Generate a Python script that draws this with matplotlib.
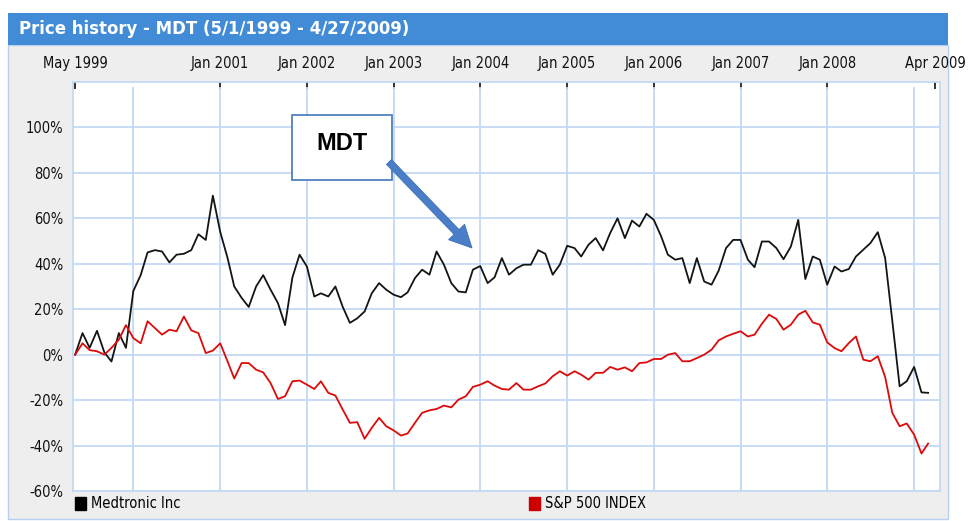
import os
import numpy as np
import pandas as pd
import matplotlib
matplotlib.use("Agg")
import matplotlib.pyplot as plt
import matplotlib.dates as mdates
import matplotlib.font_manager as fm
from matplotlib.patches import Rectangle, FancyArrowPatch, Patch

# ---------------- data ----------------
dates = pd.date_range("1999-05-01", "2009-03-01", freq="MS")

mdt_pct = [0, 9.5, 3, 10.5, 1, -3, 9.5, 3, 28, 35,
           45, 46, 45.4, 40.6, 44, 44.4, 46, 53, 50.5, 70,
           54, 42.5, 30, 25, 21, 30, 35, 28.6, 22.7, 13,
           34, 44, 38.8, 25.6, 27, 25.6, 30, 21, 14, 16,
           19, 27, 31.5, 28.6, 26.4, 25.3, 27.4, 33.7, 37.4, 35.2,
           45.4, 39.6, 31.5, 27.8, 27.4, 37.4, 39, 31.5, 34, 42.5,
           35.2, 38, 39.6, 39.6, 46, 44.4, 35.2, 39.6, 47.9, 46.9,
           43.2, 48.4, 51.3, 45.9, 53.5, 60, 51.3, 59, 56.4, 62,
           59.3, 52, 44, 41.8, 42.5, 31.5, 42.5, 32.2, 30.8,
           37, 46.9, 50.5, 50.5, 41.8, 38.5, 49.8, 49.8, 46.9, 42,
           47.6, 59.3, 33.3, 43.2, 41.8, 30.8, 38.8, 36.6, 37.7, 43.2,
           46.2, 49.1, 53.9, 42.5, 15, -13.9, -11.7, -5.4, -16.6, -16.8]

sp500_pct = [0, 5, 2, 1.5, 0, 3, 6.6, 13, 7.3, 5,
             14.7, 11.7, 8.8, 11, 10.3, 16.8, 10.7, 9.5, 0.7, 1.8,
             5, -3, -10.5, -3.7, -3.7, -6.6, -7.8, -12.5, -19.5, -18.3,
             -11.7, -11.4, -13.2, -15.1, -11.7, -16.8, -18, -24.2, -30, -29.7,
             -37, -32.2, -27.8, -31.5, -33.3, -35.6, -34.7, -30, -25.6, -24.5,
             -23.9, -22.4, -23.2, -19.8, -18.3, -14.2, -13.2, -11.7, -13.6, -15.1,
             -15.4, -12.5, -15.4, -15.4, -13.9, -12.7, -9.5, -7.3, -9.2, -7.3,
             -8.8, -11, -8, -8, -5.4, -6.6, -5.6, -7.3, -3.7, -3.4,
             -1.9, -1.9, 0, 0.7, -2.9, -2.9, -1.5, 0, 2.2,
             6.3, 8, 9.2, 10.3, 8, 8.8, 13.6, 17.6, 15.7, 11,
             13.2, 17.6, 19.3, 14.2, 13.2, 5.4, 2.9, 1.5, 5.1, 8,
             -2.2, -2.9, -0.7, -9.8, -25.6, -31.5, -30.3, -35.2, -43.5, -39.1]

series_names = ["Medtronic Inc", "S&P 500 INDEX"]
tick_dates = ["1999-05-01", "2001-01-01", "2002-01-01", "2003-01-01", "2004-01-01",
              "2005-01-01", "2006-01-01", "2007-01-01", "2008-01-01", "2009-04-01"]
tick_labels = ["May 1999", "Jan 2001", "Jan 2002", "Jan 2003", "Jan 2004",
               "Jan 2005", "Jan 2006", "Jan 2007", "Jan 2008", "Apr 2009"]
grid_dates = ["%d-01-01" % y for y in range(2000, 2010)]
y_ticks = [-60, -40, -20, 0, 20, 40, 60, 80, 100]
title = "Price history - MDT (5/1/1999 - 4/27/2009)"
note = "MDT"

# ---------------- fonts ----------------
def find_font(name):
    for f in fm.fontManager.ttflist:
        if os.path.basename(f.fname) == name:
            return f.fname
    return None

cond = find_font("DejaVuSansCondensed.ttf")
cond_b = find_font("DejaVuSansCondensed-Bold.ttf")

def fp(size, bold=False):
    path = cond_b if bold else cond
    if path:
        return fm.FontProperties(fname=path, size=size)
    return fm.FontProperties(family="DejaVu Sans", size=size * 0.9,
                             weight="bold" if bold else "normal")

# ---------------- figure ----------------
W, H = 972, 521
fig = plt.figure(figsize=(W / 100, H / 100), dpi=100)
fig.patch.set_facecolor("white")

def fx(x):
    return x / W

def fy(y):
    return 1 - y / H

GRID = "#C3DAF4"

# gray panel + title bar
fig.patches.append(Rectangle((fx(8), fy(519)), fx(940), (519 - 45) / H,
                             transform=fig.transFigure, fc="#EEEEEE",
                             ec="#B7D0EE", lw=1.0, zorder=-2))
fig.patches.append(Rectangle((fx(8), fy(45)), fx(940), 32 / H,
                             transform=fig.transFigure, fc="#428BD7",
                             ec="none", zorder=-1))
fig.text(fx(19), fy(29), title, color="white", ha="left", va="center",
         fontproperties=fp(13.2, bold=True))

ax = fig.add_axes([fx(73), fy(491), (940 - 73) / W, (491 - 82) / H])
ax.set_facecolor("white")

ax.plot(dates, mdt_pct, color="#141414", lw=1.3, zorder=3)
ax.plot(dates, sp500_pct, color="#DD0A0A", lw=1.3, zorder=3)

ax.set_xlim(pd.Timestamp("1999-04-22"), pd.Timestamp("2009-04-20"))
ax.set_ylim(-60, 120)

# yearly vertical gridlines (stop just below the top tick marks)
for d in pd.to_datetime(grid_dates):
    ax.axvline(d, ymin=0, ymax=0.985, color=GRID, lw=1.3, zorder=1)

# x axis on top
ax.xaxis.tick_top()
ax.set_xticks(mdates.date2num(pd.to_datetime(tick_dates)))
ax.set_xticklabels(tick_labels)
ax.tick_params(axis="x", which="major", direction="in", length=5, width=1.3,
               color="#222222", pad=8, top=True, bottom=False)
for lab in ax.get_xticklabels():
    lab.set_fontproperties(fp(10.5))
    lab.set_color("#111111")

ax.set_yticks(y_ticks)
ax.set_yticklabels(["%d%%" % v for v in y_ticks])
ax.tick_params(axis="y", length=0, pad=7)
for lab in ax.get_yticklabels():
    lab.set_fontproperties(fp(10.5))
    lab.set_color("#111111")

ax.grid(False)
ax.grid(True, which="major", axis="y", color=GRID, lw=1.3, zorder=1)
ax.set_axisbelow(True)
for s in ax.spines.values():
    s.set_color(GRID)
    s.set_linewidth(1.3)

# legend (two separated entries)
leg_font = fp(10.5)
for name, col, xpos in [(series_names[0], "#000000", 75), (series_names[1], "#CC0000", 529)]:
    fig.legend(handles=[Patch(facecolor=col, edgecolor=col)], labels=[name],
               loc="center left", bbox_to_anchor=(fx(xpos), fy(504)),
               frameon=False, borderpad=0, borderaxespad=0,
               handlelength=0.75, handleheight=0.95, handletextpad=0.35,
               prop=leg_font)

# MDT callout
fig.patches.append(Rectangle((fx(292), fy(180)), 100 / W, 65 / H,
                             transform=fig.transFigure, fc="white",
                             ec="#4F81BD", lw=1.3, zorder=10))
fig.text(fx(342), fy(144), note, ha="center", va="center", zorder=11,
         fontsize=17, fontweight="bold", family="Liberation Sans", color="black")
arrow = FancyArrowPatch(posA=(fx(389), fy(162)), posB=(fx(472), fy(248)),
                        transform=fig.transFigure,
                        arrowstyle="simple,head_length=1.6,head_width=1.6,tail_width=0.5",
                        mutation_scale=10, fc="#4A7EC8", ec="#3F6FB5", lw=0.6,
                        zorder=12, shrinkA=0, shrinkB=0)
fig.patches.append(arrow)

fig.savefig("out.png", dpi=100)
